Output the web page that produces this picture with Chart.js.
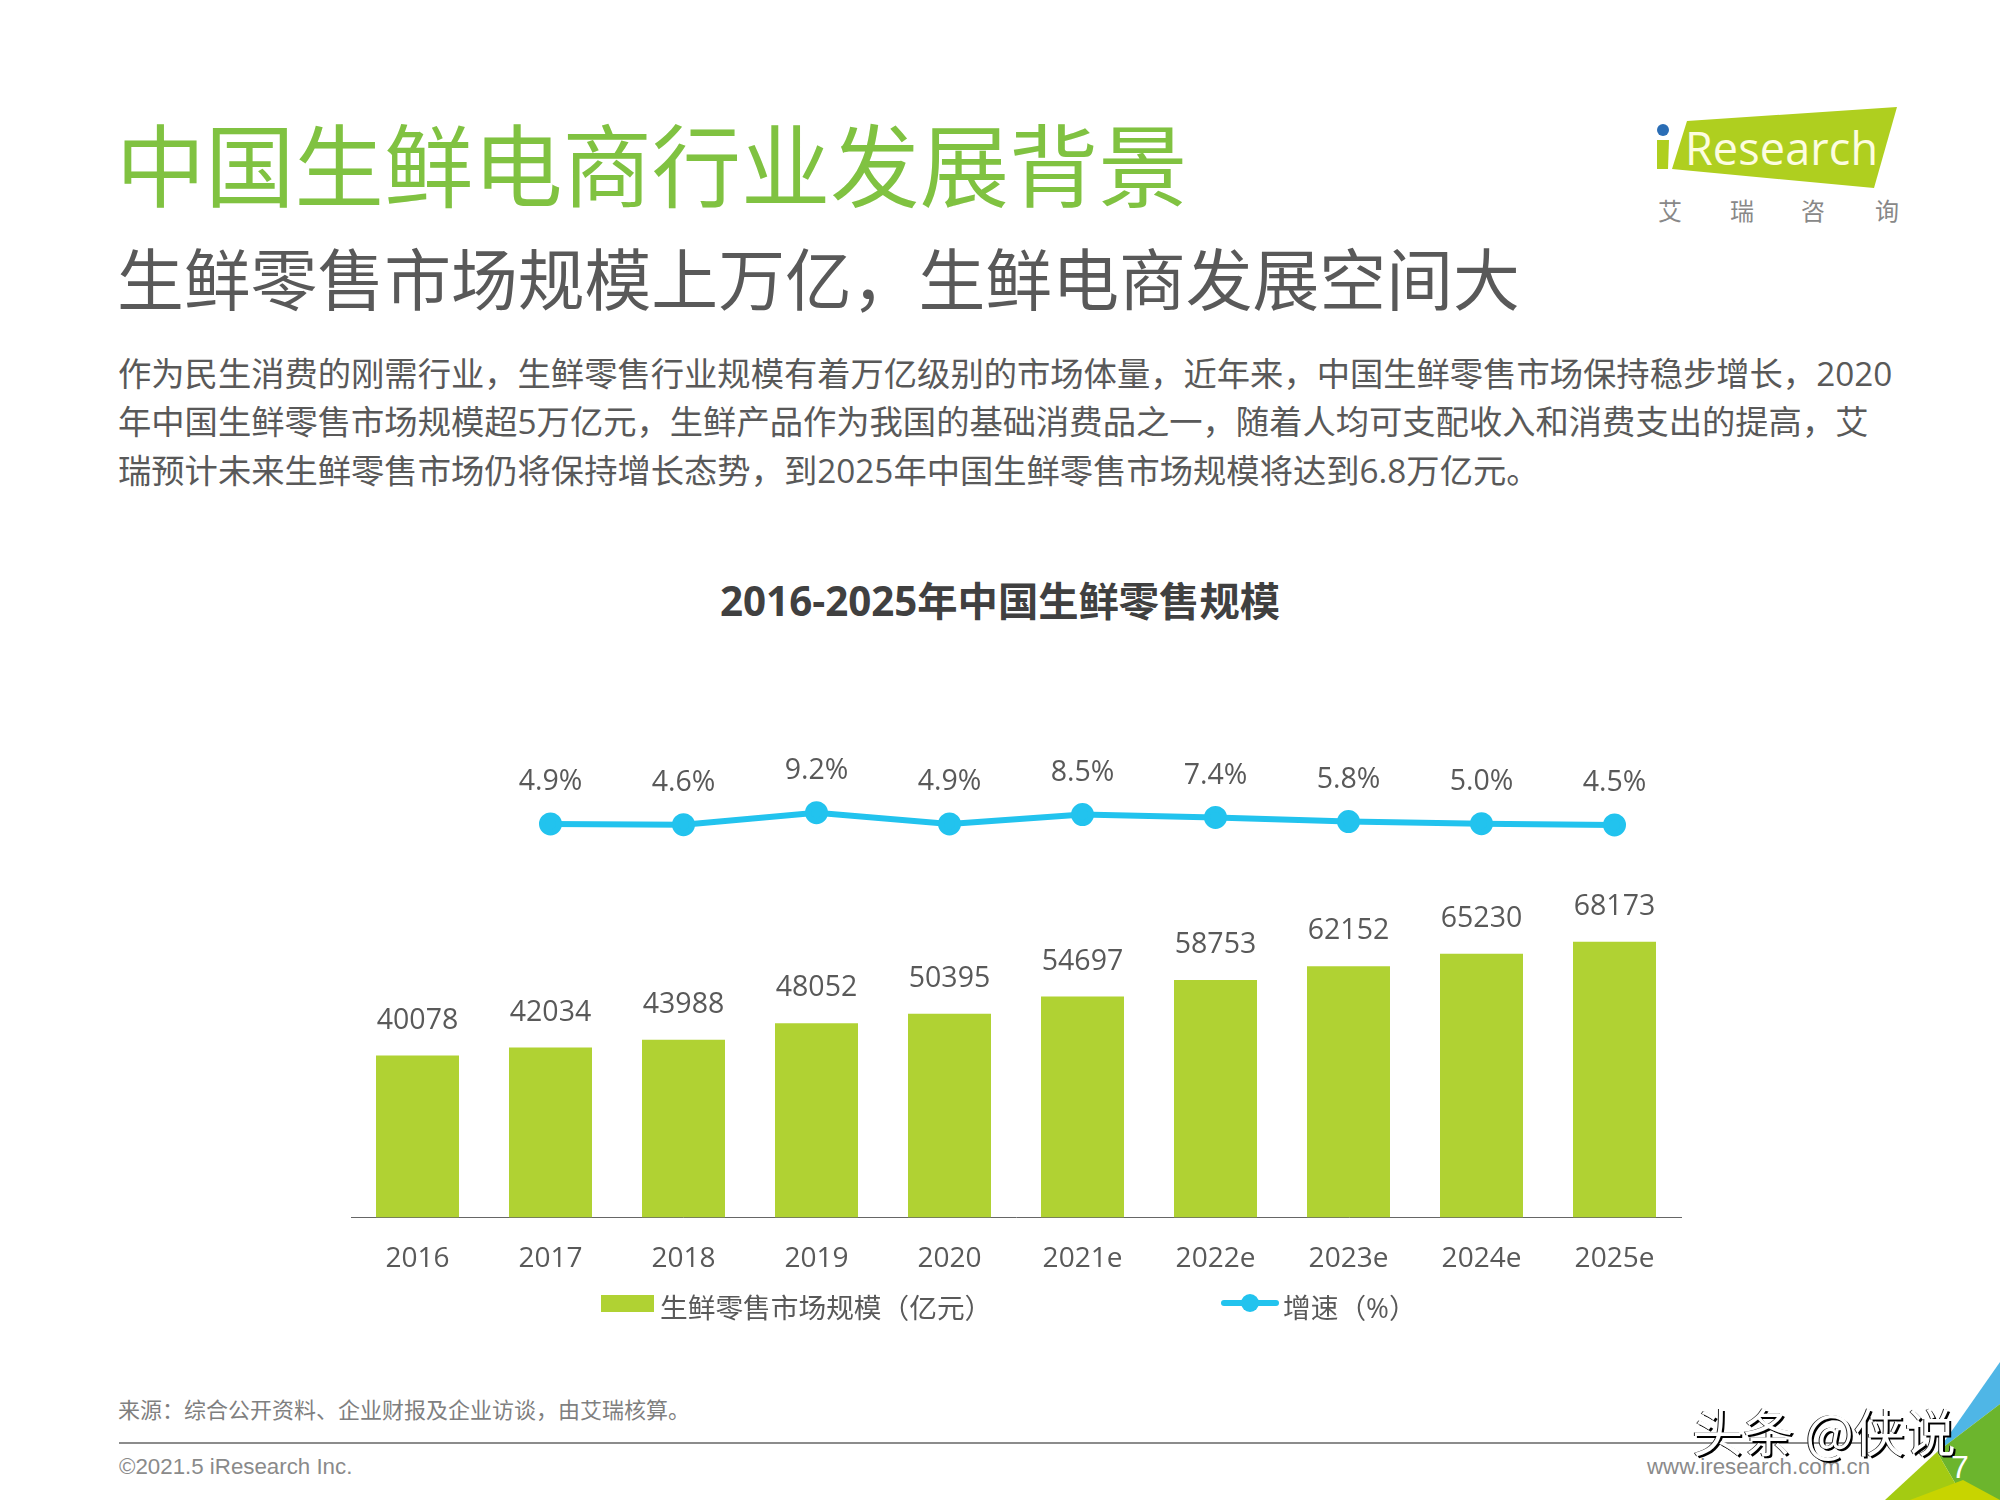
<!DOCTYPE html>
<html lang="zh-CN">
<head>
<meta charset="utf-8">
<title>中国生鲜电商行业发展背景</title>
<script src="https://cdn.jsdelivr.net/npm/chart.js@4"></script>
<style>
    html, body { margin: 0; padding: 0; background: #fff; }
    body { position: relative; width: 2000px; height: 1500px; overflow: hidden; font-family: "Open Sans", "Noto Sans CJK SC", sans-serif; color: #595959; }
    .txt { position: absolute; white-space: nowrap; line-height: 1; }
    #lblTitle { left: 116px; top: 117px; font: 400 89.3px "Noto Sans CJK SC", sans-serif; line-height: 89px; color: #80c241; }
    #lblSubtitle { left: 117px; top: 243px; font: 400 66.8px "Noto Sans CJK SC", sans-serif; line-height: 67px; color: #595959; }
    .bodyLine { left: 118px; font-size: 33.3px; line-height: 48px; }
    #lblChartTitle { left: 0; width: 2000px; text-align: center; top: 578px; font: 700 40.3px "Open Sans", "Noto Sans CJK SC", sans-serif; line-height: 46px; color: #404040; }
    #lvcChart { position: absolute; left: 320px; top: 740px; }
    .legendText { font-size: 27.7px; line-height: 34px; top: 1290px; }
    #legendBar { position: absolute; left: 601px; top: 1295px; width: 53px; height: 17px; background: #b0d233; }
    #legendLine { position: absolute; left: 1221px; top: 1300px; width: 58px; height: 6px; background: #22c3ee; border-radius: 3px; }
    #legendDot { position: absolute; left: 1241px; top: 1294px; width: 18px; height: 18px; background: #22c3ee; border-radius: 50%; }
    #lblSource { left: 118px; top: 1398px; font-size: 22px; line-height: 22px; color: #7f7f7f; }
    #footerLine { position: absolute; left: 119px; top: 1442px; width: 1745px; height: 2px; background: #8c8c8c; }
    #lblCopyright { left: 119px; top: 1456px; font: 22.3px "Liberation Sans", sans-serif; line-height: 22px; color: #8a8a8a; }
    #lblUrl { left: 1647px; top: 1456px; font: 22.3px "Liberation Sans", sans-serif; line-height: 22px; color: #8a8a8a; }
    #lblMark { left: 1692px; top: 1400px; font: 51px "Noto Sans CJK SC", sans-serif; line-height: 60px; color: #fff; text-shadow: 2px 2px 0 #000, -1px 0 0 #222; }
    #lblPage { left: 1951px; top: 1451px; font: 32px "Liberation Sans", sans-serif; line-height: 32px; color: #fff; }
    svg { position: absolute; left: 0; top: 0; }
</style>
</head>
<body>
<svg width="2000" height="1500">
    <polygon points="1687,121 1897,107 1874,188 1672,169" fill="#afcf1f"/>
    <polygon points="1657,140 1669,140 1668,169 1657,169" fill="#afcf1f"/>
    <circle cx="1663" cy="130" r="6" fill="#2a6db5"/>
    <text x="1685" y="165" font-family="Open Sans" font-size="45" fill="#fdfde0" textLength="193">Research</text>
    <g font-family="Noto Sans CJK SC" font-size="24" fill="#888" text-anchor="middle">
        <text x="1670" y="220">艾</text>
        <text x="1742" y="220">瑞</text>
        <text x="1813" y="220">咨</text>
        <text x="1887" y="220">询</text>
    </g>
    <polygon points="2000,1362 1937,1452 2000,1404" fill="#4fb6e6"/>
    <polygon points="2000,1404 1937,1452 1965,1500 2000,1500" fill="#6cb52d"/>
    <polygon points="1937,1452 1885,1500 1965,1500" fill="#a4cb12"/>
    <polygon points="1963,1480 1910,1500 2000,1500" fill="#c8d400"/>
</svg>

<div class="txt" id="lblTitle">中国生鲜电商行业发展背景</div>
<div class="txt" id="lblSubtitle">生鲜零售市场规模上万亿，生鲜电商发展空间大</div>
<div class="txt bodyLine" style="top:349px">作为民生消费的刚需行业，生鲜零售行业规模有着万亿级别的市场体量，近年来，中国生鲜零售市场保持稳步增长，2020</div>
<div class="txt bodyLine" style="top:397px">年中国生鲜零售市场规模超5万亿元，生鲜产品作为我国的基础消费品之一，随着人均可支配收入和消费支出的提高，艾</div>
<div class="txt bodyLine" style="top:446px">瑞预计未来生鲜零售市场仍将保持增长态势，到2025年中国生鲜零售市场规模将达到6.8万亿元。</div>
<div class="txt" id="lblChartTitle">2016-2025年中国生鲜零售规模</div>

<canvas id="lvcChart" width="1380" height="600"></canvas>

<div id="legendBar"></div>
<div class="txt legendText" style="left:660px">生鲜零售市场规模（亿元）</div>
<div id="legendLine"></div>
<div id="legendDot"></div>
<div class="txt legendText" style="left:1283px">增速（%）</div>

<div class="txt" id="lblSource">来源：综合公开资料、企业财报及企业访谈，由艾瑞核算。</div>
<div id="footerLine"></div>
<div class="txt" id="lblCopyright">©2021.5 iResearch Inc.</div>
<div class="txt" id="lblUrl">www.iresearch.com.cn</div>
<div class="txt" id="lblMark">头条 @侠说</div>
<div class="txt" id="lblPage">7</div>

<script>
// chart data
const years = ['2016', '2017', '2018', '2019', '2020', '2021e', '2022e', '2023e', '2024e', '2025e'];
const marketSize = [40078, 42034, 43988, 48052, 50395, 54697, 58753, 62152, 65230, 68173];
const growthRate = [null, 4.9, 4.6, 9.2, 4.9, 8.5, 7.4, 5.8, 5.0, 4.5];

const textColor = '#595959';
const labelFont = '28.5px "Open Sans", "Noto Sans CJK SC", sans-serif';

// value labels above bars and points
const valueLabels = {
    id: 'valueLabels',
    afterDatasetsDraw(chart) {
        const ctx = chart.ctx;
        ctx.save();
        ctx.font = labelFont;
        ctx.fillStyle = textColor;
        ctx.textAlign = 'center';
        ctx.textBaseline = 'middle';
        chart.getDatasetMeta(0).data.forEach((bar, i) => {
            ctx.fillText(String(marketSize[i]), bar.x, bar.y - 35);
        });
        chart.getDatasetMeta(1).data.forEach((point, i) => {
            if (growthRate[i] !== null) {
                ctx.fillText(growthRate[i].toFixed(1) + '%', point.x, point.y - 42);
            }
        });
        ctx.restore();
    }
};

new Chart(document.getElementById('lvcChart').getContext('2d'), {
    type: 'bar',
    data: {
        labels: years,
        datasets: [{
            label: '生鲜零售市场规模（亿元）',
            data: marketSize,
            backgroundColor: '#b0d233',
            barPercentage: 0.624,
            categoryPercentage: 1,
            yAxisID: 'y',
            order: 2
        }, {
            type: 'line',
            label: '增速（%）',
            data: growthRate,
            borderColor: '#22c3ee',
            backgroundColor: '#22c3ee',
            borderWidth: 6,
            pointRadius: 8.5,
            pointHoverRadius: 8.5,
            tension: 0,
            yAxisID: 'y2',
            order: 1
        }]
    },
    options: {
        responsive: false,
        animation: false,
        layout: { padding: { left: 31, right: 19, top: 0, bottom: 0 } },
        plugins: {
            legend: { display: false },
            tooltip: { enabled: false }
        },
        scales: {
            x: {
                grid: { display: false, drawTicks: false },
                border: { display: true, color: '#666', width: 1 },
                ticks: { color: textColor, font: { size: 28, family: '"Open Sans", sans-serif' }, padding: 25, maxRotation: 0, autoSkip: false },
                afterFit(scale) { scale.height = 122.4; }
            },
            y: { display: false, min: 0, max: 114500 },
            // growth line floats above the bars, so its axis is shifted up
            y2: { display: false, min: -146.6, max: 31.6 }
        }
    },
    plugins: [valueLabels]
});
</script>
</body>
</html>
